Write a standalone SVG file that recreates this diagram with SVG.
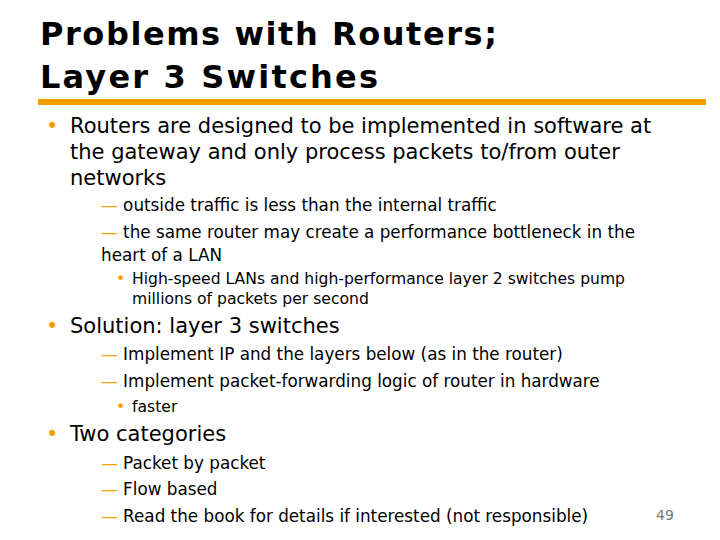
<svg xmlns="http://www.w3.org/2000/svg" width="720" height="540" viewBox="0 0 720 540">
<style>
text{font-family:"DejaVu Sans","Verdana",sans-serif;fill:#000}
.t{font-weight:bold;font-size:32px}
.l1{font-size:21px}
.l2{font-size:16.8px}
.l3{font-size:15.6px}
.o{fill:#F5A000}
</style>
<rect width="720" height="540" fill="#fff"/>
<text class="t" x="40" y="45" textLength="457" lengthAdjust="spacing">Problems with Routers;</text>
<text class="t" x="40" y="88" textLength="338" lengthAdjust="spacing">Layer 3 Switches</text>
<rect x="38" y="99" width="668" height="6" fill="#F5A000"/>
<g class="l1">
<text x="46" y="133"><tspan class="o">•</tspan><tspan x="70">Routers are designed to be implemented in software at</tspan></text>
<text x="70" y="159">the gateway and only process packets to/from outer</text>
<text x="70" y="185">networks</text>
<text x="46" y="333"><tspan class="o">•</tspan><tspan x="70">Solution: layer 3 switches</tspan></text>
<text x="46" y="441"><tspan class="o">•</tspan><tspan x="70">Two categories</tspan></text>
</g>
<g class="l2">
<text x="101" y="211"><tspan class="o">—</tspan> outside traffic is less than the internal traffic</text>
<text x="101" y="238"><tspan class="o">—</tspan> the same router may create a performance bottleneck in the</text>
<text x="101" y="261">heart of a LAN</text>
<text x="101" y="360"><tspan class="o">—</tspan> Implement IP and the layers below (as in the router)</text>
<text x="101" y="387"><tspan class="o">—</tspan> Implement packet-forwarding logic of router in hardware</text>
<text x="101" y="469"><tspan class="o">—</tspan> Packet by packet</text>
<text x="101" y="495"><tspan class="o">—</tspan> Flow based</text>
<text x="101" y="522"><tspan class="o">—</tspan> Read the book for details if interested (not responsible)</text>
</g>
<g class="l3">
<text x="116" y="284"><tspan class="o">•</tspan><tspan x="132">High-speed LANs and high-performance layer 2 switches pump</tspan></text>
<text x="132" y="304">millions of packets per second</text>
<text x="116" y="412"><tspan class="o">•</tspan><tspan x="132">faster</tspan></text>
</g>
<text x="656" y="520" style="font-size:14px;fill:#777">49</text>
</svg>
